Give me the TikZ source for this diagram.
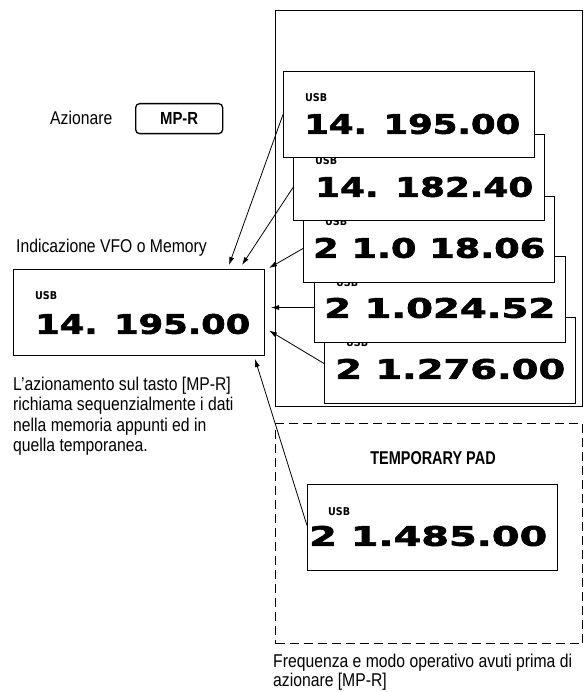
\documentclass[tikz,border=0pt]{standalone}
\usepackage{graphicx}
\usepackage{fontspec}
\setmainfont{Liberation Sans}[FakeStretch=0.85]
\newfontfamily\lcdbold{DejaVu Sans Bold}[FakeBold=2]
\newfontfamily\usbfont{DejaVu Sans Bold}
\usetikzlibrary{arrows.meta}
\newcommand\lcdnum[2]{\resizebox{#1pt}{20pt}{\lcdbold #2}}
\newcommand\usbtag{\resizebox{22pt}{8pt}{\usbfont USB}}
\tikzset{
  disp/.style={draw, fill=white, line width=1pt, minimum width=251pt,
    minimum height=86pt, anchor=north west, inner sep=0pt},
  lcd/.style={inner sep=0pt, anchor=west},
  lbl/.style={inner sep=0pt, anchor=base west},
  para/.style={inner sep=0pt, anchor=north west, align=left},
  arr/.style={-{Latex[length=8pt,width=5pt]}, line width=0.8pt},
}
\begin{document}
\begin{tikzpicture}[x=1pt,y=-1pt,font=\fontsize{18.5}{20.5}\selectfont]
\useasboundingbox (0,0) rectangle (583,692);
% memory frame
\node (mem) [draw, line width=1pt, minimum width=307pt, minimum height=396pt,
  anchor=north west, inner sep=0pt] at (275,10) {};
% stacked displays, bottom first
\node (b5) [disp] at (324,317) {};
\node (u5) [lcd] at (346,343) {\usbtag};
\node (n5) [lcd] at (335,369) {\lcdnum{230}{2 1.276.00}};
\node (b4) [disp] at (314,256) {};
\node (u4) [lcd] at (336,283) {\usbtag};
\node (n4) [lcd] at (324,308) {\lcdnum{231}{2 1.024.52}};
\node (b3) [disp] at (303,196) {};
\node (u3) [lcd] at (325,222) {\usbtag};
\node (n3) [lcd] at (313,248) {\lcdnum{232}{2 1.0 18.06}};
\node (b2) [disp] at (293,134) {};
\node (u2) [lcd] at (315,161) {\usbtag};
\node (n2) [lcd] at (315,187) {\lcdnum{218}{14. 182.40}};
\node (b1) [disp] at (283,71) {};
\node (u1) [lcd] at (305,98) {\usbtag};
\node (n1) [lcd] at (304,124) {\lcdnum{216}{14. 195.00}};
% VFO display
\node (vfo) [disp] at (13,269) {};
\node (uv) [lcd] at (35,296) {\usbtag};
\node (nv) [lcd] at (35,324) {\lcdnum{215}{14. 195.00}};
% temporary pad
\node (pad) [draw, dash pattern=on 9pt off 5pt, line width=1pt, minimum width=307pt,
  minimum height=220pt, anchor=north west, inner sep=0pt] at (275,423) {};
\node (padt) [inner sep=0pt] at (433,458) {\scalebox{0.92}[1]{\bfseries TEMPORARY PAD}};
\node (tmp) [disp, minimum width=250pt] at (307,484) {};
\node (ut) [lcd] at (328,512) {\usbtag};
\node (nt) [lcd] at (309,536) {\lcdnum{238}{2 1.485.00}};
% labels
\node (az) [lbl] at (50,124.5) {Azionare};
\node (mpr) [draw, rounded corners=4pt, line width=1.3pt, minimum width=87pt,
  minimum height=30pt, anchor=north west, inner sep=0pt, font=\fontsize{17.5}{20}\selectfont\bfseries]
  at (135,103) {MP-R};
\node (ind) [lbl] at (16,253) {Indicazione VFO o Memory};
\node (desc) [para] at (13,376.5) {L'azionamento sul tasto [MP-R]\\richiama sequenzialmente i dati\\nella memoria appunti ed in\\quella temporanea.};
\node (freq) [para, font=\fontsize{18.5}{19}\selectfont] at (273,654) {Frequenza e modo operativo avuti prima di\\azionare [MP-R]};
% arrows
\draw[arr] (b1.west) -- ([xshift=-36pt,yshift=4pt]vfo.north east);
\draw[arr] ([yshift=-10pt]b2.west) -- ([xshift=-23pt,yshift=4pt]vfo.north east);
\draw[arr] ([yshift=-9pt]b3.west) -- ([xshift=4pt,yshift=1pt]vfo.north east);
\draw[arr] ([yshift=-8pt]b4.west) -- ([xshift=6pt,yshift=5pt]vfo.east);
\draw[arr] ([yshift=-3pt]b5.west) -- ([xshift=4pt,yshift=-18pt]vfo.east);
\draw[arr] ([yshift=2pt]tmp.west) -- ([xshift=-10pt,yshift=-3pt]vfo.south east);
\end{tikzpicture}
\end{document}
